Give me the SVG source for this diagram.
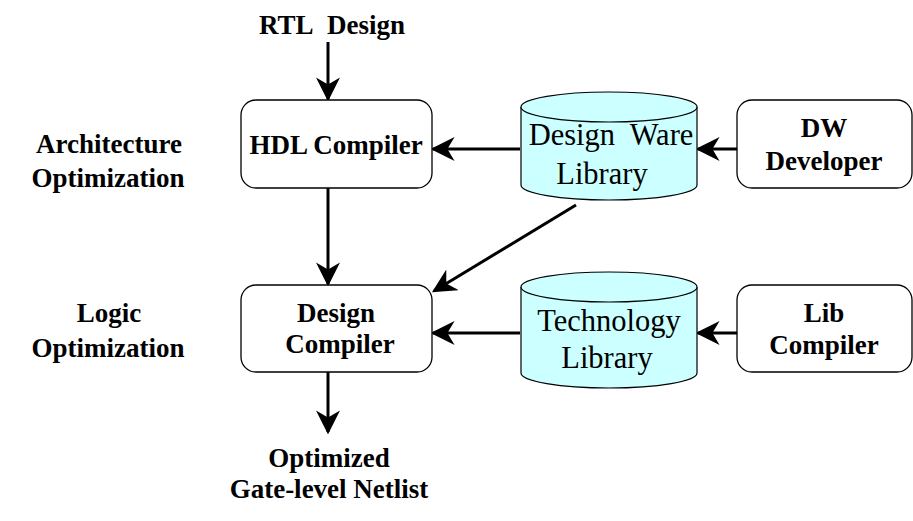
<svg xmlns="http://www.w3.org/2000/svg" width="913" height="521" viewBox="0 0 913 521">
<style>
.box{fill:#fff;stroke:#000;stroke-width:1.3}
.cyl{fill:#ccffff;stroke:#000;stroke-width:1.2}
.b{font-family:"Liberation Serif",serif;font-weight:bold;font-size:27px;text-anchor:middle;fill:#000}
.n{font-family:"Liberation Serif",serif;font-size:30.5px;text-anchor:middle;fill:#000}
.c{stroke:#000;stroke-width:3;fill:none;marker-end:url(#ah)}
</style>
<defs>
<marker id="ah" markerWidth="8" markerHeight="8" viewBox="0 0 10 10" refX="9" refY="5" orient="auto" markerUnits="strokeWidth">
<path d="M0,0 L10,5 L0,10 L3,5 Z" fill="#000"/>
</marker>
</defs>
<g id="connectors">
<line class="c" x1="328" y1="42" x2="328" y2="99"/>
<line class="c" x1="328" y1="188" x2="328" y2="284"/>
<line class="c" x1="328" y1="372" x2="328" y2="432"/>
<line class="c" x1="520" y1="149" x2="433" y2="149"/>
<line class="c" x1="737" y1="149" x2="698" y2="149"/>
<line class="c" x1="520" y1="333" x2="433" y2="333"/>
<line class="c" x1="737" y1="333" x2="698" y2="333"/>
<line class="c" x1="576" y1="205" x2="434" y2="291"/>
</g>
<g id="rtl"><text class="b" x="332" y="34">RTL&#160; Design</text></g>
<g id="arch"><text class="b" x="109" y="153">Architecture</text><text class="b" x="108" y="187">Optimization</text></g>
<g id="logic"><text class="b" x="109" y="322">Logic</text><text class="b" x="108" y="357">Optimization</text></g>
<g id="hdl"><rect class="box" x="241" y="100" width="191" height="88" rx="15"/><text class="b" x="336" y="154">HDL Compiler</text></g>
<g id="dc"><rect class="box" x="241" y="285" width="191" height="87" rx="15"/><text class="b" x="336" y="322">Design</text><text class="b" x="340" y="353">Compiler</text></g>
<g id="dw"><rect class="box" x="737" y="100" width="175" height="88" rx="15"/><text class="b" x="824" y="137">DW</text><text class="b" x="824" y="170">Developer</text></g>
<g id="lib"><rect class="box" x="737" y="285" width="175" height="87" rx="15"/><text class="b" x="824" y="322">Lib</text><text class="b" x="824" y="354">Compiler</text></g>
<g id="dwlib">
<path class="cyl" d="M521,107 L521,185 A88,15 0 0 0 697,185 L697,107"/>
<ellipse class="cyl" cx="609" cy="107" rx="88" ry="15"/>
<text class="n" x="611" y="145">Design&#160; Ware</text><text class="n" x="602" y="184">Library</text>
</g>
<g id="techlib">
<path class="cyl" d="M521,287 L521,373 A88,15 0 0 0 697,373 L697,287"/>
<ellipse class="cyl" cx="609" cy="287" rx="88" ry="15"/>
<text class="n" x="609" y="331">Technology</text><text class="n" x="607" y="368">Library</text>
</g>
<g id="out"><text class="b" x="329" y="467">Optimized</text><text class="b" x="329" y="498">Gate-level Netlist</text></g>
</svg>
